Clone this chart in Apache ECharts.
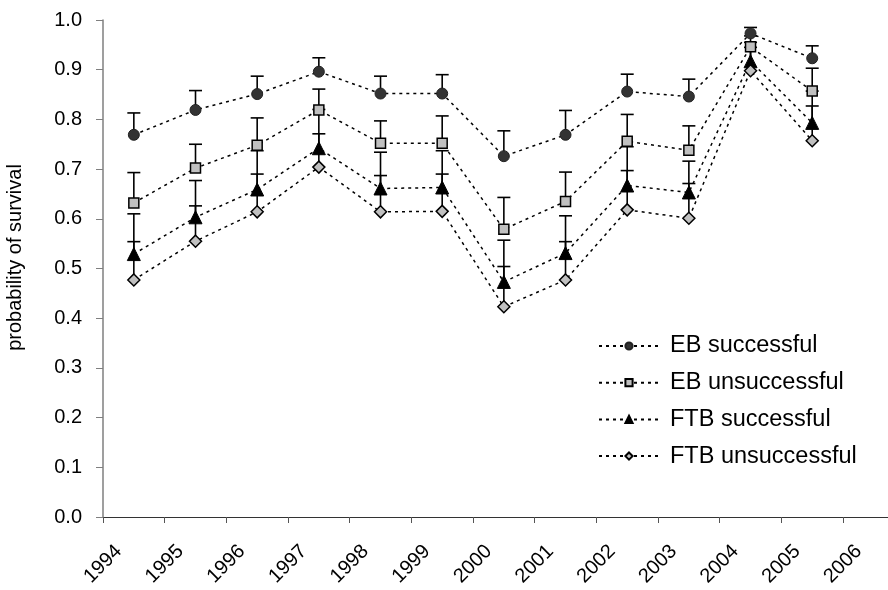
<!DOCTYPE html>
<html>
<head>
<meta charset="utf-8">
<script src="https://cdn.jsdelivr.net/npm/echarts@6/dist/echarts.min.js"></script>
<style>
html,body{margin:0;padding:0;background:#fff;}
#chart{width:888px;height:590px;}
</style>
</head>
<body>
<div id="chart"></div>
<script>
// ---- data ----
const years = [1994, 1995, 1996, 1997, 1998, 1999, 2000, 2001, 2002, 2003, 2004, 2005];
const tickYears = [1994, 1995, 1996, 1997, 1998, 1999, 2000, 2001, 2002, 2003, 2004, 2005, 2006];
const yTicks = [0.0, 0.1, 0.2, 0.3, 0.4, 0.5, 0.6, 0.7, 0.8, 0.9, 1.0];

const seriesNames = ['EB successful', 'EB unsuccessful', 'FTB successful', 'FTB unsuccessful'];

const ebSucc    = [0.769, 0.819, 0.851, 0.896, 0.852, 0.852, 0.726, 0.769, 0.856, 0.846, 0.973, 0.923];
const ebSuccUp  = [0.813, 0.858, 0.887, 0.924, 0.887, 0.890, 0.777, 0.818, 0.891, 0.881, 0.985, 0.948];
const ebUns     = [0.632, 0.702, 0.748, 0.819, 0.752, 0.752, 0.579, 0.635, 0.756, 0.738, 0.946, 0.857];
const ebUnsUp   = [0.693, 0.750, 0.803, 0.861, 0.797, 0.807, 0.643, 0.694, 0.810, 0.787, 0.968, 0.903];
const ftbSucc   = [0.529, 0.603, 0.659, 0.742, 0.661, 0.663, 0.473, 0.531, 0.667, 0.653, 0.917, 0.793];
const ftbSuccUp = [0.610, 0.677, 0.737, 0.820, 0.734, 0.737, 0.557, 0.606, 0.745, 0.716, 0.955, 0.857];
const ftbUns    = [0.477, 0.555, 0.614, 0.704, 0.614, 0.615, 0.423, 0.477, 0.618, 0.601, 0.898, 0.757];
const ftbUnsUp  = [0.554, 0.626, 0.690, 0.771, 0.687, 0.690, 0.504, 0.554, 0.697, 0.671, 0.945, 0.827];

const values = [ebSucc, ebUns, ftbSucc, ftbUns];
const uppers = [ebSuccUp, ebUnsUp, ftbSuccUp, ftbUnsUp];

// ---- styles ----
const FONT = '"Liberation Sans", Arial, sans-serif';
const markers = [
  {symbol: 'circle',   size: 11, color: '#333333', border: '#222222', bw: 1},
  {symbol: 'rect',     size: 10, color: '#c0c0c0', border: '#000000', bw: 1.5},
  {symbol: 'triangle', size: 13, color: '#000000', border: '#000000', bw: 1},
  {symbol: 'diamond',  size: 12, color: '#c0c0c0', border: '#000000', bw: 1.5}
];

// points sit midway between year ticks
const pos = years.map(y => y + 0.5);

const series = [];
values.forEach((vals, i) => {
  series.push({
    name: seriesNames[i] + ' err',
    type: 'custom',
    z: 1,
    silent: true,
    data: vals.map((v, k) => [pos[k], v, uppers[i][k]]),
    renderItem: function (params, api) {
      const p = api.coord([api.value(0), api.value(1)]);
      const q = api.coord([api.value(0), api.value(2)]);
      const st = {stroke: '#000', lineWidth: 1.6};
      return {
        type: 'group',
        children: [
          {type: 'line', shape: {x1: p[0], y1: p[1], x2: q[0], y2: q[1]}, style: st},
          {type: 'line', shape: {x1: q[0] - 6.5, y1: q[1], x2: q[0] + 6.5, y2: q[1]}, style: st}
        ]
      };
    }
  });
});
values.forEach((vals, i) => {
  const m = markers[i];
  series.push({
    name: seriesNames[i],
    type: 'line',
    z: 3,
    data: vals.map((v, k) => [pos[k], v]),
    symbol: m.symbol,
    symbolSize: m.size,
    showAllSymbol: true,
    lineStyle: {color: '#000', width: 1.5, type: [3, 4]},
    itemStyle: {color: m.color, borderColor: m.border, borderWidth: m.bw},
    emphasis: {disabled: true}
  });
});

const chart = echarts.init(document.getElementById('chart'), null, {renderer: 'canvas'});
chart.setOption({
  animation: false,
  backgroundColor: '#ffffff',
  textStyle: {fontFamily: FONT},
  grid: {left: 103, right: 0, top: 20, bottom: 73, containLabel: false, outerBoundsMode: 'none'},
  legend: {
    data: seriesNames,
    orient: 'vertical',
    left: 593,
    top: 329,
    itemWidth: 60,
    itemHeight: 9,
    itemGap: 12.7,
    selectedMode: false,
    textStyle: {fontFamily: FONT, fontSize: 23.5, color: '#000', lineHeight: 24, padding: [0, 0, 0, 6]}
  },
  xAxis: {
    type: 'value',
    min: 1994,
    max: 1994 + (888 - 103) / 61.67,
    interval: 1,
    splitLine: {show: false},
    axisLine: {show: true, lineStyle: {color: '#333', width: 1.2}},
    axisTick: {show: true, length: 6, lineStyle: {color: '#555'}, customValues: tickYears},
    axisLabel: {
      customValues: tickYears,
      rotate: 45,
      margin: 47,
      fontSize: 20,
      fontFamily: FONT,
      color: '#000',
      align: 'center',
      verticalAlign: 'middle',
      formatter: v => String(Math.round(v))
    }
  },
  yAxis: {
    type: 'value',
    min: 0,
    max: 1,
    interval: 0.1,
    name: 'probability of survival',
    nameLocation: 'middle',
    nameGap: 78,
    nameTextStyle: {fontSize: 20, fontFamily: FONT, color: '#000', padding: [0, 0, 0, 22]},
    splitLine: {show: false},
    axisLine: {show: true, lineStyle: {color: '#7f7f7f', width: 1.5}},
    axisTick: {show: true, length: 7, lineStyle: {color: '#7f7f7f'}},
    axisLabel: {
      margin: 21,
      fontSize: 20,
      fontFamily: FONT,
      color: '#000',
      formatter: v => v.toFixed(1)
    }
  },
  series: series
});
</script>
</body>
</html>
